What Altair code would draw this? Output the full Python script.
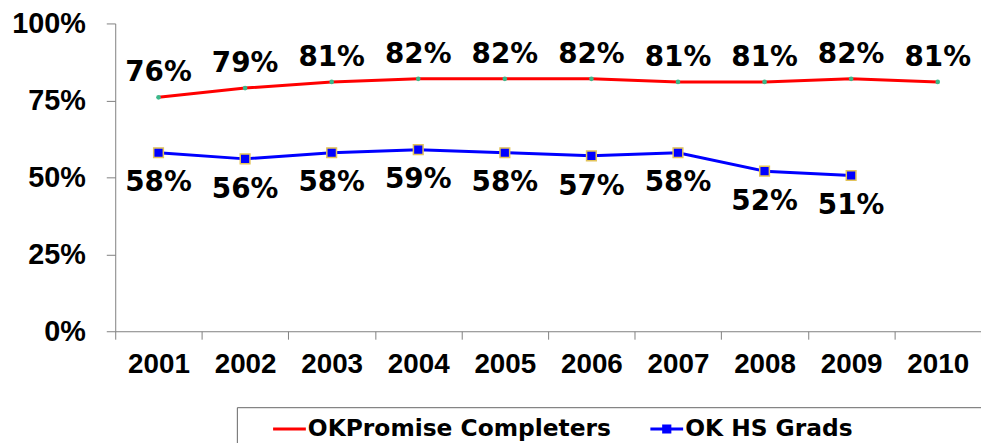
import altair as alt
import pandas as pd

years = ["2001", "2002", "2003", "2004", "2005", "2006", "2007", "2008", "2009", "2010"]
promise = [76, 79, 81, 82, 82, 82, 81, 81, 82, 81]
hs_years = ["2001", "2002", "2003", "2004", "2005", "2006", "2007", "2008", "2009"]
hs_grads = [58, 56, 58, 59, 58, 57, 58, 52, 50.6]
series_names = ["OKPromise Completers", "OK HS Grads"]
series_colors = ["#FF0000", "#0000FF"]
y_ticks = [0, 25, 50, 75, 100]

df_p = pd.DataFrame({"year": years, "value": promise, "series": series_names[0]})
df_h = pd.DataFrame({"year": hs_years, "value": hs_grads, "series": series_names[1]})

x_enc = alt.X("year:N", scale=alt.Scale(domain=years, paddingInner=0, paddingOuter=0),
              axis=alt.Axis(title=None, labelAngle=0, tickBand="extent", tickSize=8,
                            labelPadding=12, labelFont="Liberation Sans", labelFontSize=28,
                            labelFontWeight="bold", labelColor="#000000",
                            domainColor="#808080", tickColor="#808080",
                            labelBaseline="top"))
y_enc = alt.Y("value:Q", scale=alt.Scale(domain=[0, 100], nice=False, zero=True),
              axis=alt.Axis(title=None, values=y_ticks, labelExpr="datum.value + '%'",
                            tickSize=9, labelPadding=21, labelFont="Liberation Sans",
                            labelFontSize=29, labelFontWeight="bold", labelColor="#000000",
                            domainColor="#808080", tickColor="#808080", grid=False))

red_line = alt.Chart(df_p).mark_line(strokeWidth=3, color=series_colors[0]).encode(x=x_enc, y=y_enc)
blue_line = alt.Chart(df_h).mark_line(strokeWidth=3, color=series_colors[1]).encode(x="year:N", y="value:Q")

red_pts = alt.Chart(df_p).mark_point(filled=True, size=22, shape="circle",
                                     color="#3CB88A", opacity=1).encode(x="year:N", y="value:Q")
blue_pts = alt.Chart(df_h).mark_square(size=95, color="#0000FF", stroke="#E3C45A",
                                       strokeWidth=1.5, opacity=1).encode(x="year:N", y="value:Q")

lbl = dict(font="DejaVu Sans", fontSize=28, fontWeight="bold", color="#000000",
           align="center", baseline="middle")
red_lbl = alt.Chart(df_p).transform_calculate(
    t="format(datum.value, '.0f') + '%'"
).mark_text(dy=-24, **lbl).encode(x="year:N", y="value:Q", text="t:N")
blue_lbl = alt.Chart(df_h).transform_calculate(
    t="format(datum.value, '.0f') + '%'"
).mark_text(dy=31, **lbl).encode(x="year:N", y="value:Q", text="t:N")

leg_common = dict(orient="none", direction="horizontal", legendY=392, symbolSize=1089,
                  symbolStrokeWidth=0, symbolOpacity=1,
                  labelFont="DejaVu Sans", labelFontSize=23.5,
                  labelFontWeight="bold", labelColor="#000000",
                  labelOffset=2, labelLimit=400)
leg_red = alt.Legend(legendX=159, symbolType="M-1,-0.09H1V0.09H-1Z", **leg_common)
leg_blue = alt.Legend(legendX=539,
                      symbolType="M-1,-0.09H1V0.09H-1Z M-0.28,-0.28H0.28V0.28H-0.28Z",
                      **leg_common)

legend_red = alt.Chart(df_p).mark_point(filled=True, opacity=0).encode(
    x="year:N", y="value:Q",
    color=alt.Color("series:N", scale=alt.Scale(domain=[series_names[0]], range=[series_colors[0]]),
                    title=None, legend=leg_red),
)
legend_blue = alt.Chart(df_h).mark_point(filled=True, opacity=0).encode(
    x="year:N", y="value:Q",
    fill=alt.Fill("series:N", scale=alt.Scale(domain=[series_names[1]], range=[series_colors[1]]),
                  title=None, legend=leg_blue),
)

one = alt.Data(values=[{"a": 1}])
frame_top = alt.Chart(one).mark_rule(color="#666666", strokeWidth=1).encode(
    x=alt.value(123), x2=alt.value(900), y=alt.value(387))
frame_left = alt.Chart(one).mark_rule(color="#666666", strokeWidth=1).encode(
    x=alt.value(123), y=alt.value(387), y2=alt.value(440))

chart = alt.layer(red_line, blue_line, red_pts, blue_pts, red_lbl, blue_lbl,
                  legend_red, legend_blue, frame_top, frame_left).properties(
    width=872, height=310,
    autosize=alt.AutoSizeParams(type="none"),
    padding={"left": 108, "top": 14, "right": 0, "bottom": 111},
).configure_view(stroke=None).configure_axis(grid=False)

chart.save("out.html", embed_options={"renderer": "svg", "actions": False})
